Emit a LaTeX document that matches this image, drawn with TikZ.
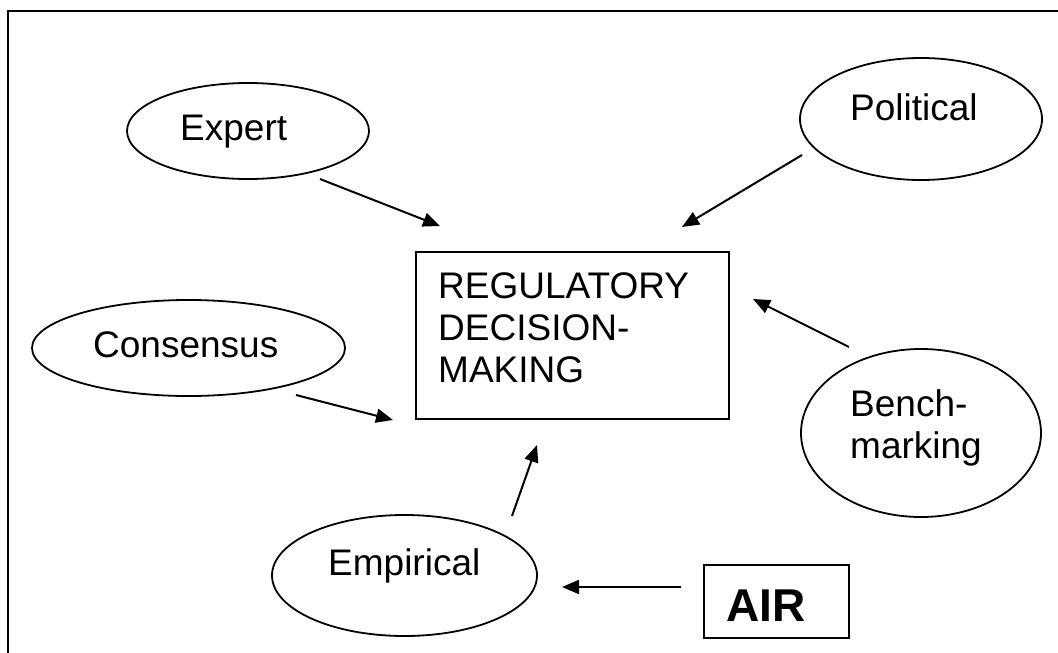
\documentclass[tikz,border=0pt]{standalone}
\usepackage{fontspec}
\setmainfont{Liberation Sans}
\usetikzlibrary{shapes.geometric,arrows.meta}
\begin{document}
\begin{tikzpicture}[x=1pt,y=-1pt,
  bubble/.style={draw, ellipse, line width=1.8pt, inner sep=0pt},
  panel/.style={draw, rectangle, line width=2pt, inner sep=0pt},
  lbl/.style={anchor=base west, inner sep=0pt, font=\fontsize{37}{42}\selectfont},
  arr/.style={line width=2pt, -{Triangle[length=17pt,width=14pt]}}]

\useasboundingbox (0,0) rectangle (1058,653);
\clip (0,0) rectangle (1058,653);

% outer frame (runs past the right and bottom edges)
\draw[line width=2.2pt] (8,11) rectangle (1090,690);

% sources of input
\node[bubble, minimum width=242pt, minimum height=96pt]  (expert)    at (248,131)   {};
\node[bubble, minimum width=242pt, minimum height=122pt] (political) at (921,119)   {};
\node[bubble, minimum width=313pt, minimum height=96pt]  (consensus) at (188.5,348) {};
\node[bubble, minimum width=265pt, minimum height=121pt] (empirical) at (404.5,575.5) {};
\node[bubble, minimum width=240pt, minimum height=168pt] (bench)     at (921,433)   {};

\node[lbl] (expertT)    at (180,140) {Expert};
\node[lbl] (politicalT) at (850,120) {Political};
\node[lbl] (consensusT) at (93,357)  {Consensus};
\node[lbl] (empiricalT) at (328,575) {Empirical};
\node[lbl] (benchA)     at (850,416) {Bench-};
\node[lbl] (benchB)     at (850,458) {marking};

% central decision box
\node[panel, minimum width=313pt, minimum height=167pt] (rdm) at (572.5,335.5) {};
\node[lbl] (rdmA) at (438,298) {REGULATORY};
\node[lbl] (rdmB) at (438,340) {DECISION-};
\node[lbl] (rdmC) at (438,382) {MAKING};

% AIR box
\node[panel, minimum width=145pt, minimum height=73pt] (air) at (776.5,601.5) {};
\node[lbl, font=\bfseries\fontsize{46}{50}\selectfont] (airT) at (726,621) {AIR};

% arrow end points
\coordinate (expertOut)    at (320,179);
\coordinate (expertIn)     at (440,226);
\coordinate (politicalOut) at (802,155);
\coordinate (politicalIn)  at (682,227);
\coordinate (consensusOut) at (296,395);
\coordinate (consensusIn)  at (393,420);
\coordinate (benchOut)     at (849,347);
\coordinate (benchIn)      at (753,299);
\coordinate (empiricalOut) at (512,516);
\coordinate (empiricalIn)  at (537,445);
\coordinate (airOut)       at (681,587);
\coordinate (airIn)        at (562,587);

\draw[arr] (expertOut)    -- (expertIn);
\draw[arr] (politicalOut) -- (politicalIn);
\draw[arr] (consensusOut) -- (consensusIn);
\draw[arr] (benchOut)     -- (benchIn);
\draw[arr] (empiricalOut) -- (empiricalIn);
\draw[arr] (airOut)       -- (airIn);

\end{tikzpicture}
\end{document}
